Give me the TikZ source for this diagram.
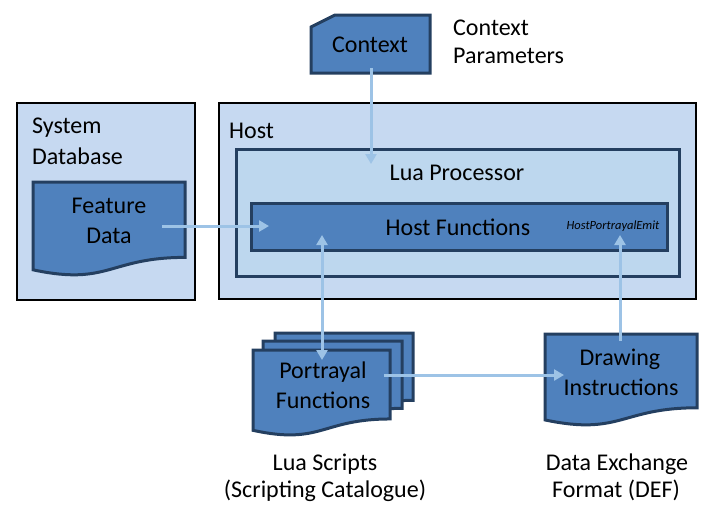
\documentclass[tikz,border=0pt]{standalone}
\usepackage{fontspec}
\setmainfont{Carlito}
\usetikzlibrary{arrows.meta}
\definecolor{docfill}{HTML}{4F81BD}
\definecolor{docline}{HTML}{243F60}
\definecolor{lightbox}{HTML}{C6D9F1}
\definecolor{luabox}{HTML}{BDD7EE}
\definecolor{arrowc}{HTML}{9DC3E6}
\newcommand\docshape[5]{\path[#1] (#2,#3) -- ({#2+#4},#3) -- ({#2+#4},{#3+0.802*#5}) .. controls ({#2+0.5*#4},{#3+0.802*#5}) and ({#2+0.5*#4},{#3+1.1075*#5}) .. (#2,{#3+0.934*#5}) -- cycle;}
\tikzset{
  docstyle/.style={fill=docfill, draw=docline, line width=3pt, line join=miter},
  lbl/.style={anchor=base, inner sep=0pt, font=\fontsize{24}{29}\selectfont},
  lblleft/.style={anchor=base west, inner sep=0pt, font=\fontsize{24}{29}\selectfont},
  flow/.style={draw=arrowc, line width=3pt, -{Triangle[length=10pt,width=11pt]}},
  flowboth/.style={draw=arrowc, line width=3pt, {Triangle[length=10pt,width=11pt]}-{Triangle[length=10pt,width=11pt]}},
}
\begin{document}
\begin{tikzpicture}[x=1pt,y=-1pt]
\useasboundingbox (0,0) rectangle (714,512);
% containers
\draw[fill=lightbox, draw=black, line width=1.3pt] (17,103) rectangle (195,300);
\draw[fill=lightbox, draw=black, line width=2pt] (219,103) rectangle (696,299);
\draw[fill=luabox, draw=docline, line width=3pt] (236,149) rectangle (679,276);
\draw[docstyle] (251,203) rectangle (667,250);
% context
\path[docstyle] (311,27) -- (335,15) -- (430,15) -- (430,73) -- (311,73) -- cycle;
% documents
\docshape{docstyle}{33}{182}{152}{94}
\docshape{docstyle}{275}{333}{138}{84}
\docshape{docstyle}{263}{341}{139}{84}
\docshape{docstyle}{253}{350}{137}{86}
\docshape{docstyle}{545}{334}{152}{92}
% texts
\node[lbl] (ctx) at (370,52) {Context};
\node[lblleft] (cp1) at (453,35) {Context};
\node[lblleft] (cp2) at (453,63) {Parameters};
\node[lblleft] (sd1) at (32,133) {System};
\node[lblleft] (sd2) at (32,164) {Database};
\node[lblleft] (host) at (229,138) {Host};
\node[lbl] (lua) at (457,180) {Lua Processor};
\node[lbl] (hf) at (458,235) {Host Functions};
\node[anchor=base, inner sep=0pt, font=\fontsize{12.5}{15}\selectfont\itshape] (emit) at (613,229) {HostPortrayalEmit};
\node[lbl] (fd1) at (109,213) {Feature};
\node[lbl] (fd2) at (109,243) {Data};
\node[lbl] (pf1) at (323,378) {Portrayal};
\node[lbl] (pf2) at (323,408) {Functions};
\node[lbl] (di1) at (620,365) {Drawing};
\node[lbl] (di2) at (621,395) {Instructions};
\node[lbl] (ls1) at (325,470) {Lua Scripts};
\node[lbl] (ls2) at (325,497) {(Scripting Catalogue)};
\node[lbl] (de1) at (617,470) {Data Exchange};
\node[lbl] (de2) at (616,497) {Format (DEF)};
% connector ends
\coordinate (ctxS) at (371,68);
\coordinate (luaN) at (371,164);
\coordinate (fdE) at (162,226);
\coordinate (hfW) at (269,226);
\coordinate (hfS) at (322,235);
\coordinate (pfN) at (322,360);
\coordinate (pfE) at (384,375);
\coordinate (diW) at (564,375);
\coordinate (diN) at (620,341);
\coordinate (emitS) at (620,235);
% connectors
\draw[flow] (ctxS) -- (luaN);
\draw[flow] (fdE) -- (hfW);
\draw[flowboth] (hfS) -- (pfN);
\draw[flow] (pfE) -- (diW);
\draw[flow] (diN) -- (emitS);
\end{tikzpicture}
\end{document}
